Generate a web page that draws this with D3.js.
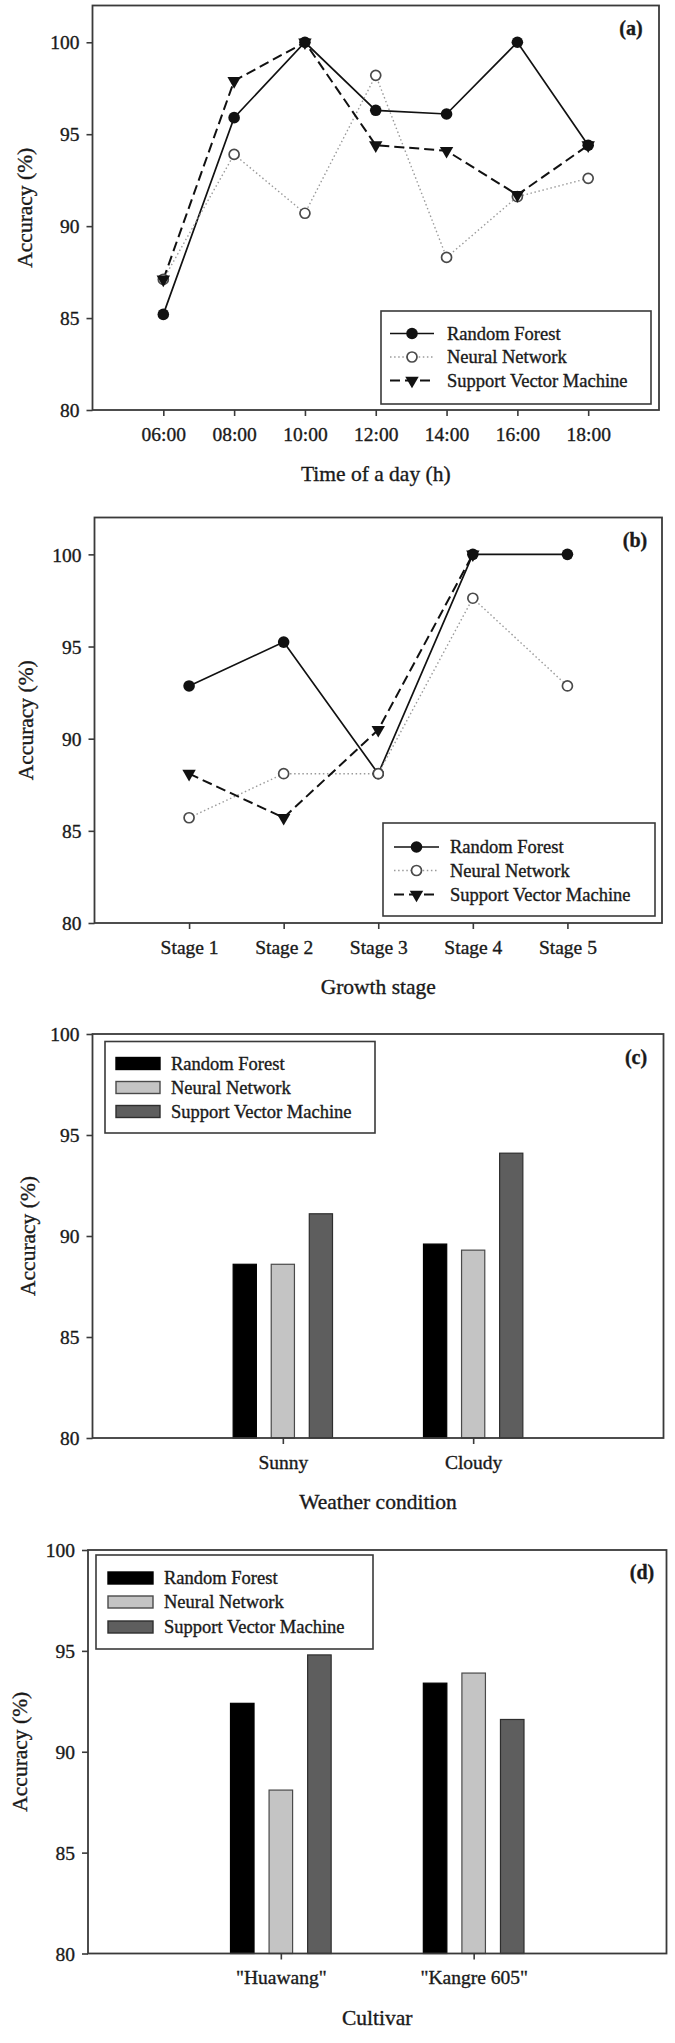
<!DOCTYPE html>
<html>
<head>
<meta charset="utf-8">
<script src="https://cdn.jsdelivr.net/npm/d3@7"></script>
<style>
  html, body { margin: 0; padding: 0; background: #fff; }
  svg { display: block; font-family: "Liberation Serif", "Times New Roman", serif; }
  svg text { stroke: #1a1a1a; stroke-width: 0.35px; }
</style>
</head>
<body>
<svg id="chart" width="675" height="2043"></svg>
<script>
// ---------------- DATA ----------------
const seriesNames = ["Random Forest", "Neural Network", "Support Vector Machine"];
const yTicks = [80, 85, 90, 95, 100];

// (a) time of day
const timeLabels = ["06:00", "08:00", "10:00", "12:00", "14:00", "16:00", "18:00"];
const rfTime  = [85.2, 95.9, 100, 96.3, 96.1, 100, 94.4];
const nnTime  = [87.1, 93.9, 90.7, 98.2, 88.3, 91.6, 92.6];
const svmTime = [87.1, 97.9, 100, 94.4, 94.1, 91.7, 94.4];

// (b) growth stage
const stageLabels = ["Stage 1", "Stage 2", "Stage 3", "Stage 4", "Stage 5"];
const rfStage  = [92.86, 95.24, 88.10, 100, 100];
const nnStage  = [85.71, 88.10, 88.10, 97.62, 92.86];
const svmStage = [88.10, 85.71, 90.48, 100, null];

// (c) weather condition
const weatherLabels = ["Sunny", "Cloudy"];
const rfWeather  = [88.6, 89.6];
const nnWeather  = [88.6, 89.3];
const svmWeather = [91.1, 94.1];

// (d) cultivar
const cultivarLabels = ["\"Huawang\"", "\"Kangre 605\""];
const rfCultivar  = [92.4, 93.4];
const nnCultivar  = [88.1, 93.9];
const svmCultivar = [94.8, 91.6];

// ---------------- DRAWING ----------------
const svg = d3.select("#chart");
const TXT = "#1a1a1a";
const FRAME = "#3a3a3a";

function styleAxis(g) {
  g.select(".domain").remove();
  g.selectAll(".tick line").attr("stroke", FRAME).attr("stroke-width", 1.6);
  g.selectAll(".tick text").attr("fill", TXT).style("font-size", "19.5px")
   .style("font-family", "'Liberation Serif', serif");
}

function frameAndAxes(p) {
  const x = p.x, y = p.y;
  svg.append("g").attr("transform", `translate(${p.left},0)`)
    .call(d3.axisLeft(y).tickValues(yTicks).tickSize(6).tickPadding(7).tickFormat(d3.format("d")))
    .call(styleAxis)
    .selectAll(".tick text").attr("dy", "0.34em");
  svg.append("g").attr("transform", `translate(0,${p.bottom})`)
    .call(d3.axisBottom(x).tickValues(p.tickVals).tickSize(6).tickPadding(11)
      .tickFormat((d, i) => p.labels[i]))
    .call(styleAxis);
  svg.append("rect").attr("x", p.left).attr("y", p.top)
    .attr("width", p.right - p.left).attr("height", p.bottom - p.top)
    .attr("fill", "none").attr("stroke", FRAME).attr("stroke-width", 1.8);
  svg.append("text").attr("x", (p.left + p.right) / 2).attr("y", p.bottom + 64)
    .attr("text-anchor", "middle").attr("dy", "0.33em").attr("fill", TXT)
    .style("font-size", "21.5px").text(p.xTitle);
  svg.append("text")
    .attr("transform", `translate(${p.yTitleX},${(p.top + p.bottom) / 2}) rotate(-90)`)
    .attr("text-anchor", "middle").attr("dy", "0.33em").attr("fill", TXT)
    .style("font-size", "21.5px").text("Accuracy (%)");
  svg.append("text").attr("x", p.tagX).attr("y", p.tagY).attr("text-anchor", "middle")
    .attr("dy", "0.33em").attr("fill", TXT).style("font-size", "20px").style("font-weight", "bold")
    .text(p.tag);
}

const lineStyles = [
  { stroke: "#111", width: 1.7, dash: null,      marker: "dot" },
  { stroke: "#9a9a9a", width: 1.4, dash: "1.5,2.6", marker: "open" },
  { stroke: "#111", width: 2.0, dash: "10,5",    marker: "tri" }
];

function drawMarker(g, type, cx, cy) {
  if (type === "dot") {
    g.append("circle").attr("cx", cx).attr("cy", cy).attr("r", 5.8).attr("fill", "#111");
  } else if (type === "open") {
    g.append("circle").attr("cx", cx).attr("cy", cy).attr("r", 5)
      .attr("fill", "#fff").attr("stroke", "#4a4a4a").attr("stroke-width", 1.7);
  } else {
    const s = d3.symbol().type(d3.symbolTriangle).size(78)();
    g.append("path").attr("d", s).attr("transform", `translate(${cx},${cy}) rotate(180)`)
      .attr("fill", "#111");
  }
}

function linePanel(p) {
  p.x = d3.scaleLinear().domain(p.xDomain).range([p.left, p.right]);
  p.y = d3.scaleLinear().domain([80, 102]).range([p.bottom, p.top]);
  frameAndAxes(p);
  const g = svg.append("g");
  p.series.forEach((vals, si) => {
    const st = lineStyles[si];
    const line = d3.line().defined(d => d != null)
      .x((d, i) => p.x(p.tickVals[i])).y(d => p.y(d));
    g.append("path").attr("d", line(vals)).attr("fill", "none")
      .attr("stroke", st.stroke).attr("stroke-width", st.width)
      .attr("stroke-dasharray", st.dash);
  });
  p.series.forEach((vals, si) => {
    vals.forEach((v, i) => {
      if (v != null) drawMarker(g, lineStyles[si].marker, p.x(p.tickVals[i]), p.y(v));
    });
  });
  const L = p.legend;
  svg.append("rect").attr("x", L.x0).attr("y", L.y0).attr("width", L.x1 - L.x0)
    .attr("height", L.y1 - L.y0).attr("fill", "#fff").attr("stroke", FRAME).attr("stroke-width", 1.6);
  seriesNames.forEach((name, si) => {
    const yy = L.rows[si], st = lineStyles[si];
    svg.append("line").attr("x1", L.lx0).attr("x2", L.lx1).attr("y1", yy).attr("y2", yy)
      .attr("stroke", st.stroke).attr("stroke-width", st.width)
      .attr("stroke-dasharray", st.dash);
    drawMarker(svg, st.marker, (L.lx0 + L.lx1) / 2, yy);
    svg.append("text").attr("x", L.tx).attr("y", yy).attr("dy", "0.33em").attr("fill", TXT)
      .style("font-size", "18.5px").text(name);
  });
}

const barStyles = [
  { fill: "#000", stroke: "#000" },
  { fill: "#c4c4c4", stroke: "#4a4a4a" },
  { fill: "#5e5e5e", stroke: "#2e2e2e" }
];

function barPanel(p) {
  p.x = d3.scaleLinear().domain([0, 3]).range([p.left, p.right]);
  p.y = d3.scaleLinear().domain([80, 100]).range([p.bottom, p.top]);
  const offsets = [-0.2, 0, 0.2], bw = 0.122;
  const g = svg.append("g");
  p.series.forEach((vals, si) => {
    vals.forEach((v, ci) => {
      const cx = p.tickVals[ci] + offsets[si];
      g.append("rect").attr("x", p.x(cx - bw / 2)).attr("y", p.y(v))
        .attr("width", p.x(cx + bw / 2) - p.x(cx - bw / 2)).attr("height", p.y(80) - p.y(v))
        .attr("fill", barStyles[si].fill).attr("stroke", barStyles[si].stroke).attr("stroke-width", 1.2);
    });
  });
  frameAndAxes(p);
  const L = p.legend;
  svg.append("rect").attr("x", L.x0).attr("y", L.y0).attr("width", L.x1 - L.x0)
    .attr("height", L.y1 - L.y0).attr("fill", "#fff").attr("stroke", FRAME).attr("stroke-width", 1.6);
  seriesNames.forEach((name, si) => {
    const yy = L.rows[si];
    svg.append("rect").attr("x", L.sx0).attr("y", yy - 6).attr("width", L.sx1 - L.sx0).attr("height", 12)
      .attr("fill", barStyles[si].fill).attr("stroke", barStyles[si].stroke).attr("stroke-width", 1.4);
    svg.append("text").attr("x", L.tx).attr("y", yy).attr("dy", "0.33em").attr("fill", TXT)
      .style("font-size", "18.5px").text(name);
  });
}

linePanel({
  left: 92.5, right: 659, top: 5.5, bottom: 410,
  xDomain: [-1, 7], tickVals: d3.range(7), labels: timeLabels,
  series: [rfTime, nnTime, svmTime],
  xTitle: "Time of a day (h)", yTitleX: 25, tag: "(a)", tagX: 631, tagY: 28.5,
  legend: { x0: 381, x1: 651, y0: 311, y1: 404, rows: [333.5, 357, 380.5], lx0: 390, lx1: 434, tx: 447 }
});

linePanel({
  left: 94.5, right: 662, top: 517.5, bottom: 923,
  xDomain: [0, 6], tickVals: [1, 2, 3, 4, 5], labels: stageLabels,
  series: [rfStage, nnStage, svmStage],
  xTitle: "Growth stage", yTitleX: 26, tag: "(b)", tagX: 635, tagY: 540,
  legend: { x0: 383, x1: 655, y0: 823, y1: 916, rows: [847, 870.5, 894.5], lx0: 394, lx1: 439, tx: 450 }
});

barPanel({
  left: 92.5, right: 663.5, top: 1034, bottom: 1438,
  tickVals: [1, 2], labels: weatherLabels,
  series: [rfWeather, nnWeather, svmWeather],
  xTitle: "Weather condition", yTitleX: 28, tag: "(c)", tagX: 636, tagY: 1057,
  legend: { x0: 105, x1: 375, y0: 1041.5, y1: 1133, rows: [1063.5, 1087.5, 1111.5], sx0: 116, sx1: 160, tx: 171 }
});

barPanel({
  left: 88, right: 666.5, top: 1550, bottom: 1953.5,
  tickVals: [1, 2], labels: cultivarLabels,
  series: [rfCultivar, nnCultivar, svmCultivar],
  xTitle: "Cultivar", yTitleX: 20, tag: "(d)", tagX: 642, tagY: 1572,
  legend: { x0: 96, x1: 373, y0: 1555, y1: 1649, rows: [1578, 1602, 1627], sx0: 108, sx1: 153, tx: 164 }
});
</script>
</body>
</html>
